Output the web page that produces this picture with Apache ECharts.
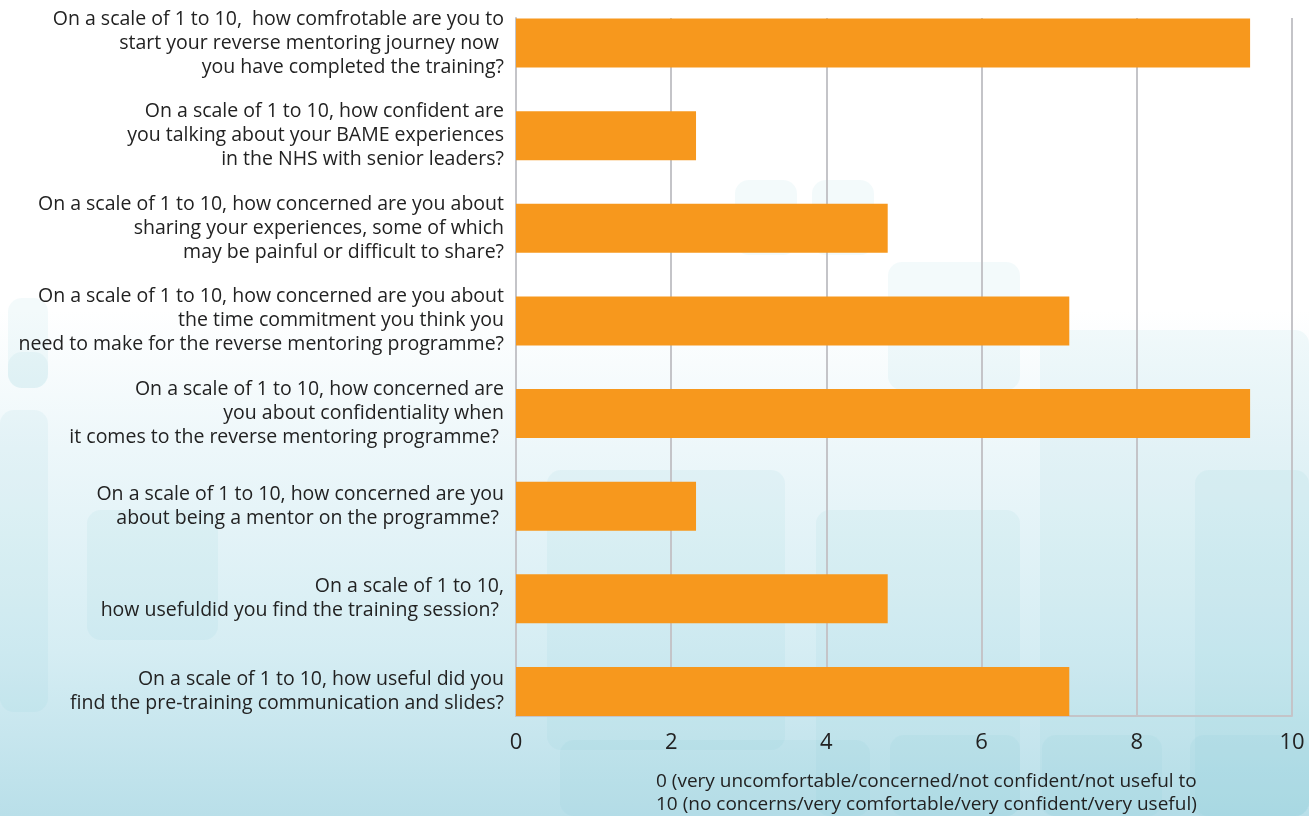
<!DOCTYPE html>
<html>
<head>
<meta charset="utf-8">
<script src="https://cdn.jsdelivr.net/npm/echarts@6/dist/echarts.min.js"></script>
<style>
html,body{margin:0;padding:0;background:#fff;overflow:hidden;}
#wrap{width:1309px;height:816px;overflow:hidden;position:relative;}
#chart{width:1309px;height:836px;position:absolute;left:0;top:-20px;}
</style>
</head>
<body>
<div id="wrap"><div id="chart"></div></div>
<script>
const categories = [
  "On a scale of 1 to 10,  how comfrotable are you to\nstart your reverse mentoring journey now \nyou have completed the training?",
  "On a scale of 1 to 10, how confident are\nyou talking about your BAME experiences\nin the NHS with senior leaders?",
  "On a scale of 1 to 10, how concerned are you about\nsharing your experiences, some of which\nmay be painful or difficult to share?",
  "On a scale of 1 to 10, how concerned are you about\nthe time commitment you think you\nneed to make for the reverse mentoring programme?",
  "On a scale of 1 to 10, how concerned are\nyou about confidentiality when\nit comes to the reverse mentoring programme? ",
  "On a scale of 1 to 10, how concerned are you\nabout being a mentor on the programme? ",
  "On a scale of 1 to 10,\nhow usefuldid you find the training session? ",
  "On a scale of 1 to 10, how useful did you\nfind the pre-training communication and slides?"
];
const scores = [9.46, 2.32, 4.79, 7.13, 9.46, 2.32, 4.79, 7.13];
const xTicks = [0, 2, 4, 6, 8, 10];
const axisTitle = "0 (very uncomfortable/concerned/not confident/not useful to\n10 (no concerns/very comfortable/very confident/very useful)";

const OFF = 20; // chart canvas is shifted up by this many pixels
const chart = echarts.init(document.getElementById('chart'), null, {renderer: 'canvas'});

const deco = [
  [735,180,62,75],[812,180,62,75],[888,262,132,128],[8,298,40,90],[8,352,40,36],
  [0,410,48,302],[87,510,131,130],[547,470,238,280],[816,510,204,306],
  [1040,330,269,486],[560,740,310,76],[890,735,130,81],[1042,735,120,81],[1190,735,119,81],[1195,470,114,346]
];
const graphics = [{
  type: 'rect', z: -10, silent: true,
  shape: {x: 0, y: OFF, width: 1309, height: 816},
  style: {fill: new echarts.graphic.LinearGradient(0, 0, 0, 1, [
    {offset: 0, color: '#ffffff'},
    {offset: 0.38, color: '#ffffff'},
    {offset: 0.55, color: '#edf7fa'},
    {offset: 0.8, color: '#d5edf3'},
    {offset: 1, color: '#b9dfe9'}
  ])}
}];
deco.forEach(function (d) {
  graphics.push({
    type: 'rect', z: -9, silent: true,
    shape: {x: d[0], y: d[1] + OFF, width: d[2], height: d[3], r: 14},
    style: {fill: 'rgba(120,195,215,0.09)'}
  });
});

chart.setOption({
  animation: false,
  backgroundColor: 'transparent',
  textStyle: {fontFamily: 'Open Sans'},
  graphic: graphics,
  title: {
    text: axisTitle,
    left: 651, top: 765 + OFF,
    textStyle: {fontFamily: 'Open Sans', fontSize: 19, fontWeight: 'normal', color: '#222', lineHeight: 23}
  },
  grid: [
    {left: 516, right: 17, top: 18 + OFF, bottom: 100},
    {left: 516, right: 17, top: -3.3 + OFF, bottom: 78.2}
  ],
  xAxis: [
    {
      gridIndex: 0, type: 'value', min: 0, max: 10, interval: 2,
      axisLine: {show: true, lineStyle: {color: '#c4c4c8', width: 2}},
      axisTick: {show: false},
      splitLine: {show: true, lineStyle: {color: '#c4c4c8', width: 2}},
      axisLabel: {margin: 16, fontSize: 22, color: '#222', fontFamily: 'Open Sans',
        formatter: function (v) { return xTicks.indexOf(v) >= 0 ? String(v) : ''; }}
    },
    {
      gridIndex: 1, type: 'value', min: 0, max: 10, interval: 2,
      show: false
    }
  ],
  yAxis: [
    {
      gridIndex: 0, type: 'category', data: categories, inverse: true,
      axisLine: {show: true, lineStyle: {color: '#c4c4c8', width: 2}},
      axisTick: {show: false}, axisLabel: {show: false}, splitLine: {show: false}
    },
    {
      gridIndex: 1, type: 'category', data: categories, inverse: true,
      axisLine: {show: false}, axisTick: {show: false}, splitLine: {show: false},
      axisLabel: {show: true, margin: 12, fontSize: 19.5, lineHeight: 24, color: '#222',
        fontFamily: 'Open Sans', align: 'right'}
    }
  ],
  series: [{
    type: 'bar', xAxisIndex: 1, yAxisIndex: 1,
    data: scores, barWidth: 49,
    itemStyle: {color: '#F7981D'},
    z: 5
  }]
});
</script>
</body>
</html>
